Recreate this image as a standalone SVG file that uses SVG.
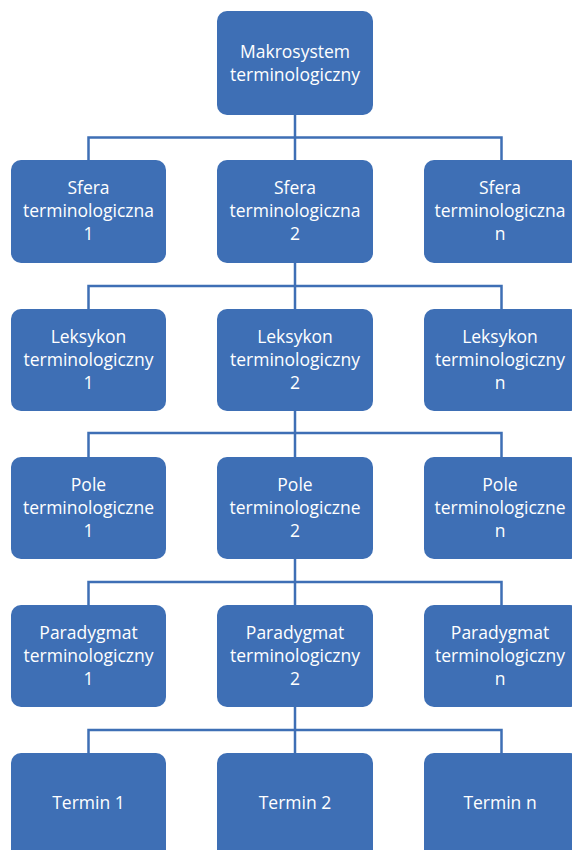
<svg xmlns="http://www.w3.org/2000/svg" width="572" height="850" viewBox="0 0 572 850">
<style>
.n rect{fill:#3E6FB5;}
.n text{fill:#FFFFFF;font-family:"Open Sans","Liberation Sans",sans-serif;font-size:17.5px;text-anchor:middle;}
.c path{fill:none;stroke:#3E6FB5;stroke-width:2.5;}
</style>
<rect width="572" height="850" fill="#FFFFFF"/>
<g class="c" id="connectors">
<path d="M295 115V137.5M88.5 160V137.5H501.5V160M295 137.5V160"/>
<path d="M295 263V286M88.5 309V286H501.5V309M295 286V309"/>
<path d="M295 411V433M88.5 457V433H501.5V457M295 433V457"/>
<path d="M295 559V582M88.5 605V582H501.5V605M295 582V605"/>
<path d="M295 707V730M88.5 753V730H501.5V753M295 730V753"/>
</g>
<g class="n" id="n-root"><rect x="217" y="11" width="156" height="104" rx="10"/><text x="295" y="58">Makrosystem</text><text x="295" y="81">terminologiczny</text></g>

<g class="n" id="n-s1"><rect x="11" y="160" width="155" height="103" rx="10"/><text x="88.5" y="194">Sfera</text><text x="88.5" y="217">terminologiczna</text><text x="88.5" y="240">1</text></g>
<g class="n" id="n-s2"><rect x="217" y="160" width="156" height="103" rx="10"/><text x="295" y="194">Sfera</text><text x="295" y="217">terminologiczna</text><text x="295" y="240">2</text></g>
<g class="n" id="n-sn"><rect x="424" y="160" width="156" height="103" rx="10"/><text x="500" y="194">Sfera</text><text x="500" y="217">terminologiczna</text><text x="500" y="240">n</text></g>

<g class="n" id="n-l1"><rect x="11" y="309" width="155" height="102" rx="10"/><text x="88.5" y="343">Leksykon</text><text x="88.5" y="366">terminologiczny</text><text x="88.5" y="389">1</text></g>
<g class="n" id="n-l2"><rect x="217" y="309" width="156" height="102" rx="10"/><text x="295" y="343">Leksykon</text><text x="295" y="366">terminologiczny</text><text x="295" y="389">2</text></g>
<g class="n" id="n-ln"><rect x="424" y="309" width="156" height="102" rx="10"/><text x="500" y="343">Leksykon</text><text x="500" y="366">terminologiczny</text><text x="500" y="389">n</text></g>

<g class="n" id="n-p1"><rect x="11" y="457" width="155" height="102" rx="10"/><text x="88.5" y="491">Pole</text><text x="88.5" y="514">terminologiczne</text><text x="88.5" y="537">1</text></g>
<g class="n" id="n-p2"><rect x="217" y="457" width="156" height="102" rx="10"/><text x="295" y="491">Pole</text><text x="295" y="514">terminologiczne</text><text x="295" y="537">2</text></g>
<g class="n" id="n-pn"><rect x="424" y="457" width="156" height="102" rx="10"/><text x="500" y="491">Pole</text><text x="500" y="514">terminologiczne</text><text x="500" y="537">n</text></g>

<g class="n" id="n-d1"><rect x="11" y="605" width="155" height="102" rx="10"/><text x="88.5" y="639">Paradygmat</text><text x="88.5" y="662">terminologiczny</text><text x="88.5" y="685">1</text></g>
<g class="n" id="n-d2"><rect x="217" y="605" width="156" height="102" rx="10"/><text x="295" y="639">Paradygmat</text><text x="295" y="662">terminologiczny</text><text x="295" y="685">2</text></g>
<g class="n" id="n-dn"><rect x="424" y="605" width="156" height="102" rx="10"/><text x="500" y="639">Paradygmat</text><text x="500" y="662">terminologiczny</text><text x="500" y="685">n</text></g>

<g class="n" id="n-t1"><rect x="11" y="753" width="155" height="110" rx="10"/><text x="88.5" y="809">Termin 1</text></g>
<g class="n" id="n-t2"><rect x="217" y="753" width="156" height="110" rx="10"/><text x="295" y="809">Termin 2</text></g>
<g class="n" id="n-tn"><rect x="424" y="753" width="156" height="110" rx="10"/><text x="500" y="809">Termin n</text></g>
</svg>
